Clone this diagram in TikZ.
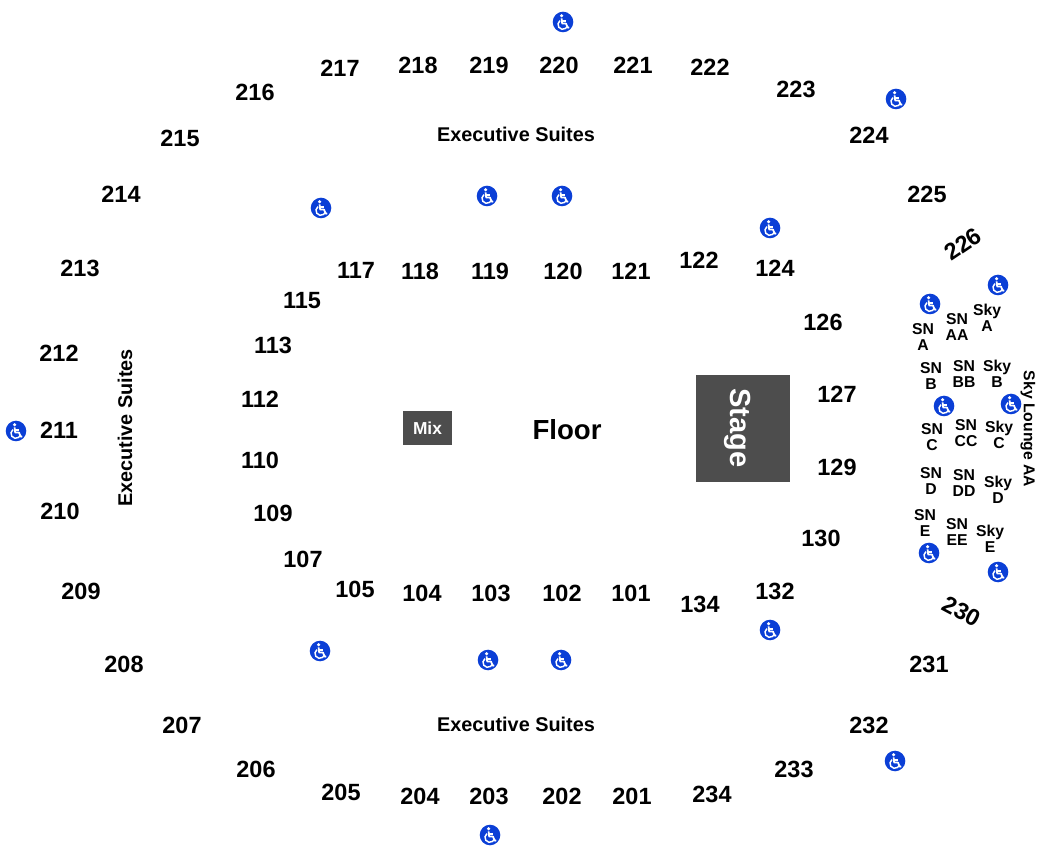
\documentclass[tikz,border=0pt]{standalone}
\usepackage{fontspec}
\setmainfont{Liberation Sans}
\usepackage{tikz}

\definecolor{accessblue}{HTML}{0B3FD6}
\definecolor{stagegray}{HTML}{4D4D4D}
\tikzset{
  section/.style = {font=\fontsize{17.6}{20}\selectfont\bfseries, inner sep=0pt, yshift=0.6pt},
  suites/.style = {font=\fontsize{14.9}{18}\selectfont\bfseries, inner sep=0pt},
  small/.style = {font=\fontsize{11.8}{12.4}\selectfont\bfseries, align=center, inner sep=0pt},
  access/.pic = {
    \fill[accessblue] (0,0) circle (10.3);
    \fill[white] (-1.4,-6.2) circle (1.7);
    \draw[white, line width=1.3pt, line join=round] (-1.4,-3.6) -- (-0.8,1.6) -- (3,1.6) -- (4.8,5.8) -- (6.2,5.3);
    \draw[white, line width=1.1pt] (-0.8,-1.2) -- (2.8,-1.2);
    \draw[white, line width=1.1pt] (-3,-1.4) arc [start angle=235, end angle=25, radius=4.8];
  }
}

\begin{document}
\begin{tikzpicture}[x=0.75pt, y=-0.75pt]
\useasboundingbox (0,0) rectangle (1050,862);

% upper and lower rings
\foreach \name/\x/\y in {217/340/69, 218/418/66, 219/489/66, 220/559/66, 221/633/66, 222/710/68,
    223/796/90, 224/869/136, 225/927/195, 216/255/93, 215/180/139, 214/121/195, 213/80/269,
    212/59/354, 211/59/431, 210/60/512, 209/81/592, 208/124/665, 207/182/726, 206/256/770,
    205/341/793, 204/420/797, 203/489/797, 202/562/797, 201/632/797, 234/712/795, 233/794/770,
    232/869/726, 231/929/665,
    117/356/271, 118/420/272, 119/490/272, 120/563/272, 121/631/272, 122/699/261, 124/775/269,
    126/823/323, 127/837/395, 129/837/468, 130/821/539, 132/775/592, 134/700/605, 101/631/594,
    102/562/594, 103/491/594, 104/422/594, 105/355/590, 107/303/560, 109/273/514, 110/260/461,
    112/260/400, 113/273/346, 115/302/301}
  \node[section] (s\name) at (\x,\y) {\name};
\node[section, rotate=34] (s226) at (963,245) {226};
\node[section, rotate=-28] (s230) at (962,612) {230};

% suites
\node[suites] (suitesTop) at (516,134) {Executive Suites};
\node[suites] (suitesBottom) at (516,724) {Executive Suites};
\node[suites, rotate=90] (suitesLeft) at (125,428) {Executive Suites};

% floor
\node[font=\fontsize{20.7}{24}\selectfont\bfseries, inner sep=0pt] (floor) at (567,430) {Floor};
\node[fill=stagegray, text=white, font=\fontsize{13}{15}\selectfont\bfseries, minimum width=36.75pt, minimum height=25.5pt, inner sep=0pt] (mix) at (427.5,428) {Mix};
\node[fill=stagegray, minimum width=70.5pt, minimum height=80.25pt, inner sep=0pt] (stage) at (742.5,428.5) {};
\node[text=white, rotate=-90, font=\fontsize{21.8}{24}\selectfont\bfseries, inner sep=0pt] (stageText) at (738,428) {Stage};

% side boxes
\foreach \name/\top/\bot/\x/\y in {snA/SN/A/923/337, snAA/SN/AA/957/327, skyA/Sky/A/987/318,
    snB/SN/B/931/376, snBB/SN/BB/964/374, skyB/Sky/B/997/374,
    snC/SN/C/932/437, snCC/SN/CC/966/433, skyC/Sky/C/999/435,
    snD/SN/D/931/481, snDD/SN/DD/964/483, skyD/Sky/D/998/490,
    snE/SN/E/925/523, snEE/SN/EE/957/532, skyE/Sky/E/990/539}
  \node[small] (\name) at (\x,\y) {\top\\\bot};
\node[font=\fontsize{11.8}{14}\selectfont\bfseries, rotate=-90, inner sep=0pt] (skyLounge) at (1028,429) {Sky Lounge AA};

% accessible seating
\foreach \x/\y in {563/22, 896/99, 321/208, 487/196, 562/196, 770/228, 998/285, 930/304,
    944/406, 1011/404, 16/431, 929/553, 998/572, 770/630, 320/651, 488/660, 561/660,
    895/761, 490/835}
  \pic at (\x,\y) {access};
\end{tikzpicture}
\end{document}
